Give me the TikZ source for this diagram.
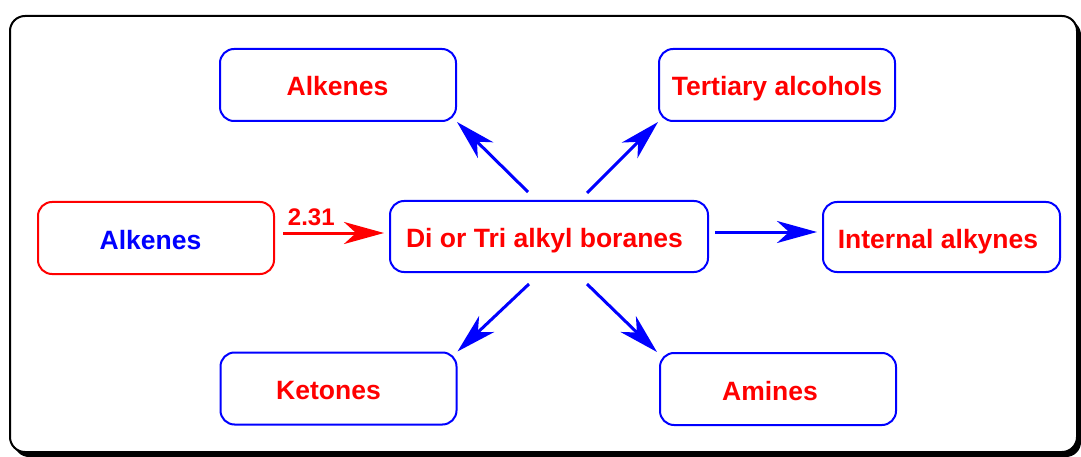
\documentclass[tikz,border=0pt]{standalone}
\usepackage{fontspec}
\setmainfont{Liberation Sans}
\usetikzlibrary{arrows.meta}

\begin{document}
\begin{tikzpicture}[x=1pt,y=-1pt,
	every node/.style={font=\bfseries\fontsize{26.5}{30}\selectfont},
	box/.style={draw=blue, line width=2pt, rounded corners=14pt, text=red, minimum width=236pt, minimum height=72pt, inner sep=0pt, text height=22pt, text depth=0pt},
	nudge/.style={execute at end node={\hspace*{#1}}},
	arr/.style={blue, line width=3pt, -{Stealth[length=40pt,width=22pt,inset=12pt]}}]
	\useasboundingbox (0,0) rectangle (1081,457);
	% frame with shadow
	\fill[black, rounded corners=15pt] (14,20) rectangle (1081,457);
	\draw[black, fill=white, line width=2pt, rounded corners=15pt] (10,16) rectangle (1077,452);
	% boxes
	\node[box, draw=red, text=blue, nudge=11pt] (start) at (156,238) {Alkenes};
	\node[box, minimum width=318pt, minimum height=71pt, nudge=9pt] (core) at (549,236.5) {Di or Tri alkyl boranes};
	\node[box, nudge=1pt] (alkenes) at (338,85) {Alkenes};
	\node[box] (tertiary) at (777,85) {Tertiary alcohols};
	\node[box, minimum width=237pt, minimum height=70pt, nudge=7pt] (alkynes) at (941.5,237) {Internal alkynes};
	\node[box, nudge=20pt] (ketones) at (338.5,388.5) {Ketones};
	\node[box, nudge=16pt] (amines) at (778,389) {Amines};
	% arrows
	\draw[arr, red] ([xshift=8pt,yshift=5pt]start.east) -- node[above, text=red, font=\bfseries\fontsize{24}{28}\selectfont, pos=0.28, inner sep=6pt] {2.31} ([xshift=-5pt,yshift=3.5pt]core.west);
	\draw[arr] ([xshift=6pt,yshift=4.5pt]core.east) -- ([xshift=-5pt,yshift=5pt]alkynes.west);
	\draw[arr] ([xshift=-21pt,yshift=8pt]core.north) -- (alkenes.south east);
	\draw[arr] ([xshift=38pt,yshift=7pt]core.north) -- (tertiary.south west);
	\draw[arr] ([xshift=-20pt,yshift=-11pt]core.south) -- (ketones.north east);
	\draw[arr] ([xshift=38pt,yshift=-11pt]core.south) -- ([xshift=-2pt]amines.north west);
\end{tikzpicture}
\end{document}
